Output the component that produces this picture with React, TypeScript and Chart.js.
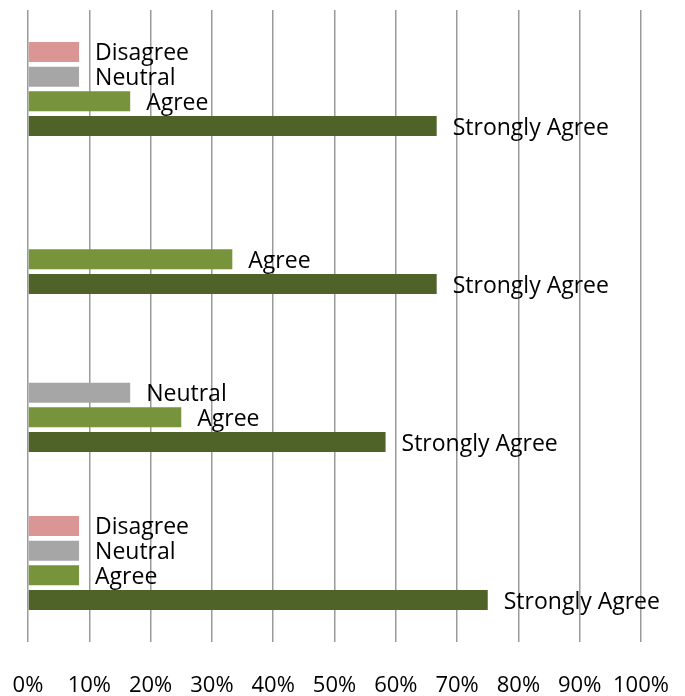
import React, { useEffect, useRef } from "react";
import { Chart, registerables } from "chart.js";

Chart.register(...registerables);

const categories = ["Item 1", "Item 2", "Item 3", "Item 4"];
const seriesNames = ["Disagree", "Neutral", "Agree", "Strongly Agree"];
const disagree = [8.33, 0, 0, 8.33];
const neutral = [8.33, 0, 16.67, 8.33];
const agree = [16.67, 33.33, 25, 8.33];
const stronglyAgree = [66.67, 66.67, 58.33, 75];
const seriesColors = ["#D99694", "#A6A6A6", "#77933C", "#4F6228"];
const tickValues = [0, 10, 20, 30, 40, 50, 60, 70, 80, 90, 100];

const FONT = "'Open Sans', sans-serif";

const labelPlugin = {
  id: "barNameLabels",
  afterDatasetsDraw(chart: any) {
    const ctx = chart.ctx;
    ctx.save();
    ctx.font = `23px ${FONT}`;
    ctx.fillStyle = "#000";
    ctx.textAlign = "left";
    ctx.textBaseline = "alphabetic";
    chart.data.datasets.forEach((ds: any, di: number) => {
      const meta = chart.getDatasetMeta(di);
      meta.data.forEach((el: any, i: number) => {
        const v = ds.data[i];
        if (!v) return;
        ctx.fillText(ds.label, el.x + 16, el.y + 8.5);
      });
    });
    ctx.restore();
  },
};

export default function App() {
  const ref = useRef<HTMLCanvasElement>(null);
  useEffect(() => {
    const values = [disagree, neutral, agree, stronglyAgree];
    const chart = new Chart(ref.current!, {
      type: "bar",
      data: {
        labels: categories,
        datasets: seriesNames.map((name, i) => ({
          label: name,
          data: values[i],
          backgroundColor: seriesColors[i],
          borderWidth: 0,
          barPercentage: 0.81,
          categoryPercentage: 0.625,
        })),
      },
      options: {
        indexAxis: "y",
        animation: false,
        responsive: false,
        maintainAspectRatio: false,
        layout: { padding: { left: 28, right: 44, top: 10, bottom: 2 } },
        plugins: { legend: { display: false }, tooltip: { enabled: false } },
        scales: {
          y: { display: false },
          x: {
            min: 0,
            max: 100,
            afterBuildTicks: (axis: any) => {
              axis.ticks = tickValues.map((v) => ({ value: v }));
            },
            afterFit: (s: any) => {
              s.paddingLeft = 0;
              s.paddingRight = 0;
              s.height = 52;
            },
            border: { display: false },
            grid: { color: "#9a9a9a", lineWidth: 1.5, drawTicks: false },
            ticks: {
              padding: 33,
              color: "#000",
              maxRotation: 0,
              autoSkip: false,
              font: { family: FONT, size: 22, lineHeight: 1 },
              callback: (v: any) => `${v}%`,
            },
          },
        },
      },
      plugins: [labelPlugin],
    });
    return () => chart.destroy();
  }, []);
  return (
    <div style={{ position: "fixed", left: 0, top: 0, width: 685, height: 696, background: "#fff" }}>
      <canvas ref={ref} width={685} height={696} style={{ display: "block" }} />
    </div>
  );
}
